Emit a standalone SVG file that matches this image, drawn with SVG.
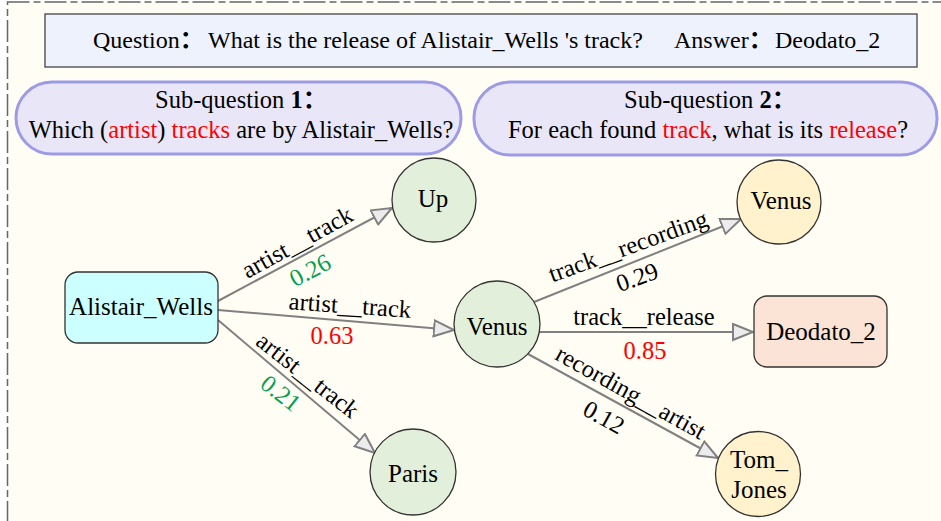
<svg xmlns="http://www.w3.org/2000/svg" width="941" height="521" viewBox="0 0 941 521">
<defs>
<style>
text{font-family:"Liberation Serif","Times New Roman",Tinos,"DejaVu Serif",serif;fill:#000;}
.cjk{font-family:"Liberation Serif","Noto Sans CJK SC",serif;font-weight:bold;}
.t24{font-size:25px;}
.tq{font-size:24px;}
.ts{font-size:24.5px;}
.lbl{font-size:24.5px;text-anchor:middle;dominant-baseline:central;}
.num{font-size:24.5px;text-anchor:middle;dominant-baseline:central;}
.red{fill:#FF0000;}
.grn{fill:#00A050;}
.edge{stroke:#808080;stroke-width:2;fill:none;marker-end:url(#arr);}
.circG{fill:#E2EFDA;stroke:#333;stroke-width:1.3;}
.circY{fill:#FFF2CC;stroke:#333;stroke-width:1.3;}
.pill{fill:#E9E7F7;stroke:#9E9BE6;stroke-width:3;}
.ctr{text-anchor:middle;}
</style>
<marker id="arr" markerUnits="userSpaceOnUse" markerWidth="24" markerHeight="20" refX="21" refY="9" orient="auto">
<path d="M1,1 L21,9 L1,17 z" fill="#ECECEC" stroke="#808080" stroke-width="2"/>
</marker>
</defs>
<rect x="0" y="0" width="941" height="521" fill="#FFFFFF"/>
<rect x="7.5" y="2" width="960" height="540" fill="#FFFDF4" stroke="#666" stroke-width="1.5" stroke-dasharray="22,4,7,4"/>

<g id="question">
<rect x="45" y="14" width="872" height="53" fill="#EEF2FC" stroke="#444" stroke-width="1.3"/>
<text class="tq" y="48"><tspan x="93">Question</tspan><tspan class="cjk">：</tspan><tspan x="208">What is the release of Alistair_Wells 's track?</tspan><tspan x="674">Answer</tspan><tspan class="cjk">：</tspan><tspan x="775">Deodato_2</tspan></text>
</g>

<g id="subq1">
<rect class="pill" x="16" y="82" width="445" height="72" rx="36"/>
<text class="ts" x="155" y="108">Sub-question <tspan font-weight="bold">1</tspan><tspan class="cjk">：</tspan></text>
<text class="ts ctr" x="241" y="138">Which (<tspan class="red">artist</tspan>) <tspan class="red">tracks</tspan> are by Alistair_Wells?</text>
</g>

<g id="subq2">
<rect class="pill" x="474" y="82" width="463" height="73" rx="36"/>
<text class="ts" x="624" y="108">Sub-question <tspan font-weight="bold">2</tspan><tspan class="cjk">：</tspan></text>
<text class="ts ctr" x="708" y="138">For each found <tspan class="red">track</tspan>, what is its <tspan class="red">release</tspan>?</text>
</g>

<g id="connectors">
<line class="edge" x1="218" y1="301" x2="392" y2="208"/>
<line class="edge" x1="218" y1="310" x2="454" y2="330"/>
<line class="edge" x1="218" y1="320" x2="375" y2="453"/>
<line class="edge" x1="534" y1="302" x2="741" y2="219"/>
<line class="edge" x1="539" y1="332" x2="753" y2="332"/>
<line class="edge" x1="528" y1="354" x2="718" y2="458"/>
<text class="lbl" transform="translate(297,242) rotate(-29)">artist__track</text>
<text class="num grn" transform="translate(310,270) rotate(-28)">0.26</text>
<text class="lbl" transform="translate(350,305) rotate(4)">artist__track</text>
<text class="num red" transform="translate(332,335)">0.63</text>
<text class="lbl" transform="translate(308,375) rotate(38)">artist__track</text>
<text class="num grn" transform="translate(281,393) rotate(38)">0.21</text>
<text class="lbl" transform="translate(628,246) rotate(-20)">track__recording</text>
<text class="num" transform="translate(637,277) rotate(-20)">0.29</text>
<text class="lbl" transform="translate(644,316)">track__release</text>
<text class="num red" transform="translate(645,350)">0.85</text>
<text class="lbl" transform="translate(631,392) rotate(29)">recording__artist</text>
<text class="num" transform="translate(604,417) rotate(29)">0.12</text>
</g>

<g id="alistair_wells">
<rect x="65" y="272" width="153" height="71" rx="13" fill="#CCFFFF" stroke="#333" stroke-width="1.3"/>
<text class="t24 ctr" x="141" y="315">Alistair_Wells</text>
</g>
<g id="up">
<circle class="circG" cx="434" cy="200" r="42"/>
<text class="t24 ctr" x="433" y="207">Up</text>
</g>
<g id="paris">
<circle class="circG" cx="413" cy="472" r="43"/>
<text class="t24 ctr" x="413" y="482">Paris</text>
</g>
<g id="venus_mid">
<circle class="circG" cx="497" cy="324" r="43"/>
<text class="t24 ctr" x="497" y="335">Venus</text>
</g>
<g id="venus_top">
<circle class="circY" cx="779" cy="202" r="42"/>
<text class="t24 ctr" x="781" y="209">Venus</text>
</g>
<g id="deodato_2">
<rect x="754" y="296" width="133" height="71" rx="13" fill="#FBE3D6" stroke="#333" stroke-width="1.3"/>
<text class="t24 ctr" x="821" y="340">Deodato_2</text>
</g>
<g id="tom_jones">
<circle class="circY" cx="758" cy="474" r="42.5"/>
<text class="t24 ctr" x="759" y="468">Tom_</text>
<text class="t24 ctr" x="759" y="498">Jones</text>
</g>
</svg>
